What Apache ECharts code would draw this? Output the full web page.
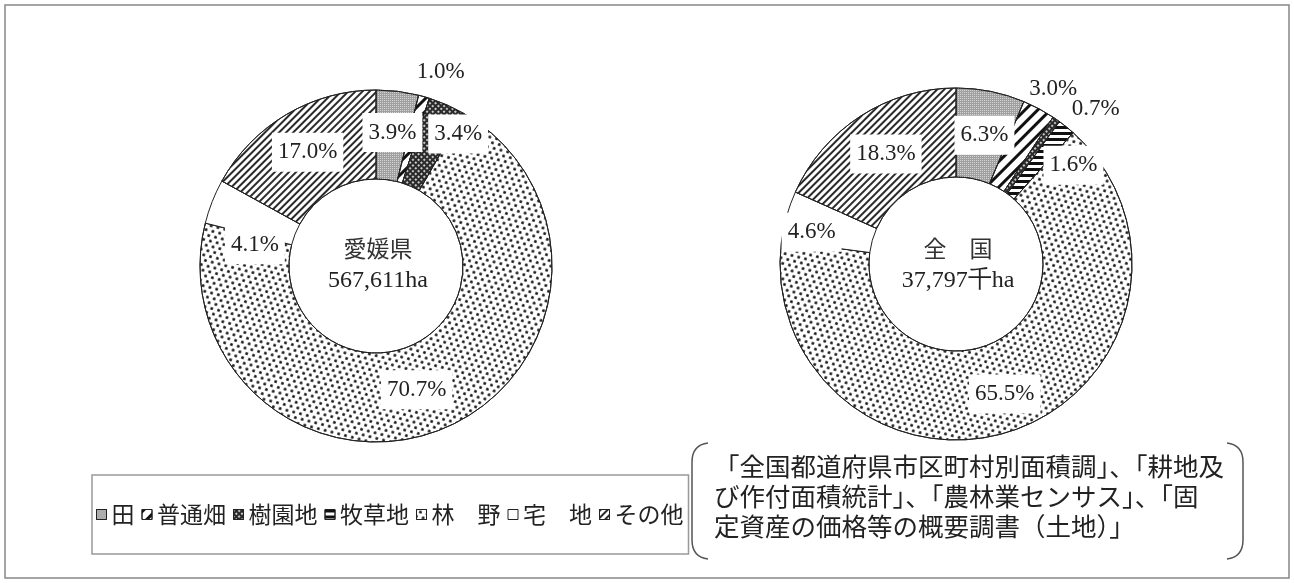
<!DOCTYPE html>
<html>
<head>
<meta charset="utf-8">
<script src="https://cdn.jsdelivr.net/npm/echarts@6/dist/echarts.min.js"></script>
<style>
html,body{margin:0;padding:0;background:#fff;}
#main{width:1294px;height:583px;}
</style>
</head>
<body>
<div id="main"></div>
<script>
// ---- data ----
var categories = ['田', '普通畑', '樹園地', '牧草地', '林　野', '宅　地', 'その他'];
var ehimeValues = [3.9, 1.0, 3.4, 0, 70.7, 4.1, 17.0];
var zenkokuValues = [6.3, 3.0, 0.7, 1.6, 65.5, 4.6, 18.3];
var ehimeCenterText = ['愛媛県', '567,611ha'];
var zenkokuCenterText = ['全　国', '37,797千ha'];
var sourceLines = [
  '「全国都道府県市区町村別面積調」、「耕地及',
  'び作付面積統計」、「農林業センサス」、「固',
  '定資産の価格等の概要調書（土地）」'
];

// ---- styles ----
var fills = [
  {color: '#a0a0a0', decal: {symbol: 'rect', symbolSize: 1, dashArrayX: [1, 1], dashArrayY: [1, 1], color: '#d4d4d4'}},
  {color: '#ffffff', decal: {symbol: 'rect', symbolSize: 1, dashArrayX: [1, 0], dashArrayY: [3, 6], rotation: -Math.PI / 4, color: '#111'}},
  {color: '#2a2a2a', decal: {symbol: 'rect', symbolSize: 1, dashArrayX: [2, 2], dashArrayY: [2, 2], rotation: Math.PI / 4, color: '#c8c8c8'}},
  {color: '#ffffff', decal: {symbol: 'rect', symbolSize: 1, dashArrayX: [1, 0], dashArrayY: [3, 3], color: '#111'}},
  {color: '#ffffff', decal: {symbol: 'circle', symbolSize: 1, dashArrayX: [[2.4, 3.6], [0, 3, 2.4, 0.6]], dashArrayY: [2.4, 1.8], rotation: 0.25, color: '#1a1a1a'}},
  {color: '#ffffff'},
  {color: '#ffffff', decal: {symbol: 'rect', symbolSize: 1, dashArrayX: [1, 0], dashArrayY: [1.6, 2.1], rotation: -Math.PI / 4, color: '#2a2a2a'}}
];
var ehimeLabelShift = [[0, 0], [28, -65], [28, -9], [0, 0], [-12, 0], [4, 28], [0, 2]];
var zenkokuLabelShift = [[2, 3], [34, -56], [63, -45], [33, 6], [2, 4], [-15, 5], [3, 3]];
var ehimeLabelPad = [8, 3, 8, 8, 8, 8, 8];
var zenkokuLabelPad = [8, 1, 1, 8, 8, 8, 8];

function buildData(values, pads) {
  return values.map(function (v, i) {
    var item = {
      name: categories[i],
      value: v,
      itemStyle: {color: fills[i].color},
      label: {show: v > 0, padding: [pads[i], Math.min(pads[i], 6)]}
    };
    if (fills[i].decal) item.itemStyle.decal = fills[i].decal;
    return item;
  });
}

function makeSeries(values, center, shifts, pads) {
  return {
    type: 'pie',
    center: center,
    radius: [87, 176],
    startAngle: 90,
    clockwise: true,
    silent: true,
    avoidLabelOverlap: false,
    itemStyle: {borderColor: '#222', borderWidth: 1},
    label: {
      position: 'inside',
      formatter: function (p) { return p.value.toFixed(1) + '%'; },
      fontFamily: 'Liberation Serif',
      fontSize: 23,
      color: '#222',
      backgroundColor: '#fff'
    },
    labelLine: {show: false},
    labelLayout: function (p) {
      var s = shifts[p.dataIndex];
      return {dx: s[0], dy: s[1]};
    },
    data: buildData(values, pads)
  };
}

function centerTitle(txt, left) {
  return {
    text: txt[0],
    subtext: txt[1],
    left: left,
    top: 237,
    textAlign: 'center',
    padding: 0,
    itemGap: 9,
    textStyle: {fontFamily: 'Noto Sans CJK JP', fontSize: 23, fontWeight: 'normal', color: '#333'},
    subtextStyle: {fontFamily: 'Liberation Serif', fontSize: 24, color: '#222'}
  };
}

function bracket(xEdge, xEnd) {
  var st = {fill: null, stroke: '#555', lineWidth: 1.5};
  return [
    {type: 'bezierCurve', silent: true, shape: {x1: xEnd, y1: 443, cpx1: xEdge, cpy1: 445, x2: xEdge, y2: 462}, style: st},
    {type: 'line', silent: true, shape: {x1: xEdge, y1: 462, x2: xEdge, y2: 540}, style: st},
    {type: 'bezierCurve', silent: true, shape: {x1: xEdge, y1: 540, cpx1: xEdge, cpy1: 557, x2: xEnd, y2: 559}, style: st}
  ];
}

var chart = echarts.init(document.getElementById('main'));
chart.setOption({
  backgroundColor: '#fff',
  animation: false,
  title: [centerTitle(ehimeCenterText, 378), centerTitle(zenkokuCenterText, 958)],
  legend: {
    left: 92,
    top: 475,
    orient: 'horizontal',
    data: categories,
    icon: 'rect',
    itemWidth: 10,
    itemHeight: 10,
    itemGap: 7,
    padding: [28, 5, 28, 4],
    borderColor: '#999',
    borderWidth: 1.5,
    selectedMode: false,
    textStyle: {fontFamily: 'Noto Sans CJK JP', fontSize: 23, color: '#222'},
    itemStyle: {borderColor: '#222', borderWidth: 1}
  },
  graphic: [
    {type: 'rect', silent: true, shape: {x: 5, y: 5, width: 1284, height: 573}, style: {fill: null, stroke: '#888', lineWidth: 1.5}},
    {type: 'text', left: 714, top: 451, silent: true,
      style: {text: sourceLines.join('\n'), fontSize: 25.5, fontFamily: 'Noto Sans CJK JP', lineHeight: 30, fill: '#222'}}
  ].concat(bracket(692, 708), bracket(1243, 1227)),
  series: [
    makeSeries(ehimeValues, [376, 266], ehimeLabelShift, ehimeLabelPad),
    makeSeries(zenkokuValues, [956, 264], zenkokuLabelShift, zenkokuLabelPad)
  ]
});
</script>
</body>
</html>
